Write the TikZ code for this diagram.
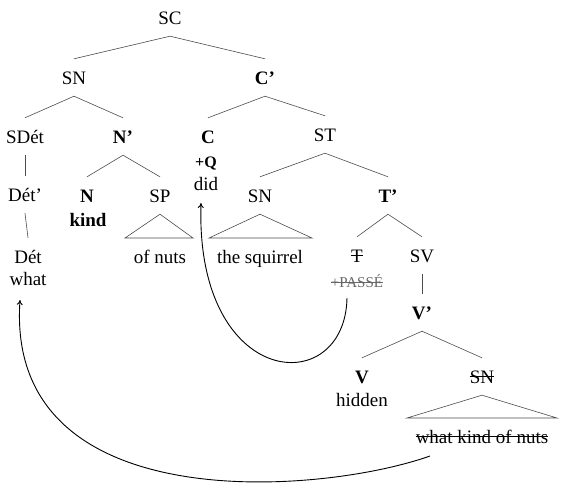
\documentclass[tikz,border=0pt]{standalone}
\usepackage{fontspec}
\setmainfont{Liberation Serif}
\usetikzlibrary{arrows.meta}

% struck-out text
\newcommand\strk[1]{\setbox0\hbox{#1}\rlap{\rule[0.3em]{\wd0}{0.055em}}\box0}

\tikzset{
	cat/.style={inner sep=0pt, text height=25pt, text depth=12pt, anchor=base},
	word/.style={inner sep=0pt, anchor=base},
	branch/.style={draw=black!70, line width=0.6pt},
	move/.style={-{To[length=5pt,width=6pt]}, line width=0.9pt}
}

\begin{document}
\begin{tikzpicture}[x=1pt,y=-1pt,font=\fontsize{19}{22}\selectfont]
	\useasboundingbox (0,0) rectangle (566,493);
	% categories
	\node[cat] (sc) at (170,24) {SC};
	\node[cat] (sn) at (74,84) {SN};
	\node[cat] (cbar) at (265,84) {\textbf{C’}};
	\node[cat] (sdet) at (25,143) {SDét};
	\node[cat] (nbar) at (123,143) {\textbf{N’}};
	\node[cat] (c) at (208,143) {\textbf{C}};
	\node[cat] (st) at (325,141) {ST};
	\node[cat] (detbar) at (25,201) {Dét’};
	\node[cat] (n) at (87,202) {\textbf{N}};
	\node[cat] (sp) at (160,202) {SP};
	\node[cat] (snsubj) at (260,202) {SN};
	\node[cat] (tbar) at (388,202) {\textbf{T’}};
	\node[cat] (det) at (28,263) {Dét};
	\node[cat] (t) at (357,262) {\strk{T}};
	\node[cat] (sv) at (422,262) {SV};
	\node[cat] (vbar) at (422,319) {\textbf{V’}};
	\node[cat] (v) at (362,383) {\textbf{V}};
	\node[cat] (snobj) at (482,383) {\strk{SN}};
	% words
	\node[word,font=\fontsize{16}{18}\selectfont\bfseries] (q) at (206,167) {+Q};
	\node[word] (did) at (206,190) {did};
	\node[word] (kind) at (88,226) {\textbf{kind}};
	\node[word] (what) at (28,285) {what};
	\node[word] (ofnuts) at (160,263) {of nuts};
	\node[word] (squirrel) at (260,263) {the squirrel};
	\node[word,font=\fontsize{15}{17}\selectfont,text=black!60] (passe) at (357,287) {\strk{+PASSÉ}};
	\node[word] (hidden) at (362,406) {hidden};
	\node[word] (wkon) at (482,443) {\strk{what kind of nuts}};
	% branches
	\draw[branch] (sn.north) -- (sc.south) -- (cbar.north);
	\draw[branch] (sdet.north) -- (sn.south) -- (nbar.north);
	\draw[branch] (c.north) -- (cbar.south) -- (st.north);
	\draw[branch] (sdet.south) -- (detbar.north);
	\draw[branch] (detbar.south) -- (det.north);
	\draw[branch] (n.north) -- (nbar.south) -- (sp.north);
	\draw[branch] (snsubj.north) -- (st.south) -- (tbar.north);
	\draw[branch] (t.north) -- (tbar.south) -- (sv.north);
	\draw[branch] (sv.south) -- (vbar.north);
	\draw[branch] (v.north) -- (vbar.south) -- (snobj.north);
	% triangles
	\coordinate (spl) at (125,238);
	\coordinate (spr) at (193,238);
	\coordinate (subjl) at (209,238);
	\coordinate (subjr) at (312,238);
	\coordinate (objl) at (407,418);
	\coordinate (objr) at (557,418);
	\draw[branch] (sp.south) -- (spl) -- (spr) -- cycle;
	\draw[branch] (snsubj.south) -- (subjl) -- (subjr) -- cycle;
	\draw[branch] (snobj.south) -- (objl) -- (objr) -- cycle;
	% movements
	\coordinate (tout) at (347,298);
	\coordinate (cin) at (201,203);
	\coordinate (objout) at (430,456);
	\coordinate (whin) at (20,300);
	\draw[move] (tout) .. controls (345,400) and (195,390) .. (cin);
	\draw[move] (objout) .. controls (320,495) and (5,520) .. (whin);
\end{tikzpicture}
\end{document}
